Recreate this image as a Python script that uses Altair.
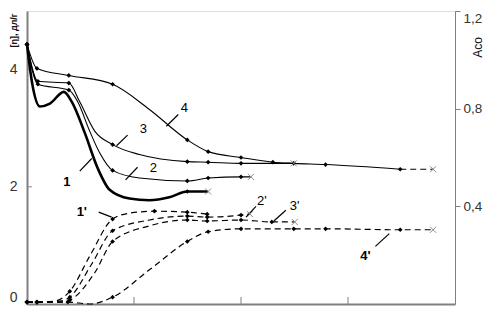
import altair as alt
import pandas as pd

# ---------- solid curves: [η], dl/g (left axis) ----------
c1_x = [0, 0.047, 0.121, 0.214, 0.344, 0.419, 0.54, 0.66, 0.772, 0.958, 1.144, 1.33, 1.498, 1.693]
c1_y = [4.43, 3.78, 3.37, 3.42, 3.62, 3.45, 2.92, 2.32, 1.95, 1.80, 1.77, 1.82, 1.92, 1.92]
c1_m = ["dot", "", "", "", "", "", "", "", "", "", "", "", "dot", "x"]

c2_x = [0, 0.102, 0.391, 0.474, 0.586, 0.679, 0.80, 1.051, 1.498, 1.693, 2.0, 2.093]
c2_y = [4.43, 3.75, 3.65, 3.45, 2.95, 2.58, 2.28, 2.15, 2.10, 2.15, 2.17, 2.17]
c2_m = ["dot", "dot", "dot", "", "", "", "dot", "", "dot", "dot", "dot", "x"]

c3_x = [0, 0.102, 0.391, 0.493, 0.633, 0.80, 1.051, 1.498, 1.693, 2.0, 2.493]
c3_y = [4.43, 3.80, 3.77, 3.45, 2.95, 2.72, 2.55, 2.43, 2.42, 2.40, 2.40]
c3_m = ["dot", "dot", "dot", "", "", "dot", "", "dot", "dot", "dot", "x"]

c4_x = [0, 0.093, 0.391, 0.80, 1.144, 1.498, 1.693, 2.0, 2.298, 2.493, 2.79, 3.488]
c4_y = [4.43, 4.02, 3.90, 3.75, 3.32, 2.80, 2.60, 2.50, 2.42, 2.40, 2.38, 2.30]
c4_m = ["dot", "dot", "dot", "dot", "", "dot", "dot", "dot", "dot", "dot", "dot", "dot"]

c4e_x = [3.488, 3.795]
c4e_y = [2.30, 2.30]
c4e_m = ["", "x"]

# ---------- dashed curves: Aco (right axis) ----------
d1_x = [0, 0.093, 0.26, 0.40, 0.586, 0.80, 0.958, 1.191, 1.498, 1.684]
d1_y = [0.008, 0.008, 0.012, 0.052, 0.196, 0.348, 0.372, 0.38, 0.376, 0.368]
d1_m = ["dot", "dot", "", "dot", "", "dot", "", "dot", "dot", "dot"]

d2_x = [0, 0.093, 0.307, 0.40, 0.605, 0.80, 1.144, 1.498, 1.684, 2.0, 2.084]
d2_y = [0.008, 0.008, 0.012, 0.028, 0.164, 0.30, 0.344, 0.36, 0.356, 0.364, 0.368]
d2_m = ["dot", "dot", "", "dot", "", "dot", "", "dot", "dot", "dot", "x"]

d3_x = [0, 0.093, 0.326, 0.40, 0.633, 0.80, 1.144, 1.498, 1.684, 2.0, 2.288, 2.502]
d3_y = [0.008, 0.008, 0.008, 0.016, 0.128, 0.256, 0.32, 0.344, 0.34, 0.344, 0.336, 0.336]
d3_m = ["dot", "dot", "", "dot", "", "dot", "", "dot", "dot", "dot", "dot", "x"]

d4_x = [0, 0.093, 0.381, 0.586, 0.80, 1.144, 1.498, 1.693, 2.0, 2.493, 2.79, 3.488, 3.795]
d4_y = [0.008, 0.008, 0.008, 0.0, 0.028, 0.14, 0.256, 0.296, 0.308, 0.308, 0.308, 0.304, 0.304]
d4_m = ["dot", "dot", "dot", "", "dot", "", "dot", "dot", "dot", "dot", "dot", "dot", "x"]

# ---------- annotations (left-axis units) ----------
lab_text = ["1", "2", "3", "4", "1'", "2'", "3'", "4'"]
lab_x = [0.372, 1.181, 1.088, 1.47, 0.512, 2.195, 2.502, 3.163]
lab_y = [2.08, 2.32, 2.98, 3.35, 1.57, 1.75, 1.67, 0.82]
lab_bold = [True, False, False, False, True, False, False, True]

ptr_x = [0.493, 0.921, 0.837, 1.302, 0.670, 2.047, 2.307, 3.256]
ptr_y = [2.267, 2.117, 2.70, 3.033, 1.567, 1.483, 1.417, 0.983]
ptr_x2 = [0.605, 1.033, 0.940, 1.414, 0.791, 2.140, 2.419, 3.386]
ptr_y2 = [2.483, 2.333, 2.883, 3.233, 1.483, 1.667, 1.60, 1.20]

xtick_vals = [1, 2, 3]
ytick_vals = [2, 4]


def frame(name, xs, ys, ms):
    return pd.DataFrame({"series": name, "x": xs, "y": ys, "m": ms, "i": range(len(xs))})


solid_thin = pd.concat([frame("2", c2_x, c2_y, c2_m), frame("3", c3_x, c3_y, c3_m),
                        frame("4", c4_x, c4_y, c4_m)])
solid_bold = frame("1", c1_x, c1_y, c1_m)
solid_ext = frame("4e", c4e_x, c4e_y, c4e_m)
solid_all = pd.concat([solid_thin, solid_bold, solid_ext])
dashed = pd.concat([frame("1'", d1_x, d1_y, d1_m), frame("2'", d2_x, d2_y, d2_m),
                    frame("3'", d3_x, d3_y, d3_m), frame("4'", d4_x, d4_y, d4_m)])

labels = pd.DataFrame({"t": lab_text, "x": lab_x, "y": lab_y, "b": lab_bold})
ptrs = pd.DataFrame({"x": ptr_x, "y": ptr_y, "x2": ptr_x2, "y2": ptr_y2})
ticks = pd.concat([
    pd.DataFrame({"x": xtick_vals, "x2": xtick_vals, "y": [0] * 3, "y2": [0.12] * 3}),
    pd.DataFrame({"x": [0, 0], "x2": [0.045, 0.045], "y": ytick_vals, "y2": ytick_vals}),
])

FONT = "Liberation Sans"
GRAY = "#808080"
XSHAPE = "M-1,-1L1,1M-1,1L1,-1"

X = alt.X("x:Q", scale=alt.Scale(domain=[0, 4], nice=False, zero=False),
          axis=alt.Axis(labels=False, ticks=False, title=None, grid=False,
                        domainColor=GRAY, domainWidth=2))
YL = alt.Y("y:Q", scale=alt.Scale(domain=[0, 5], nice=False),
           axis=alt.Axis(values=[0, 2, 4], title="[η], дл/г", titleAngle=-90,
                         titleX=-14, titleY=19, titleFontSize=9, titleFontWeight="bold",
                         titleAlign="center", titleBaseline="middle", titleFont=FONT,
                         titleColor="#111", ticks=False, labelPadding=10, labelFontSize=14,
                         labelFont=FONT, labelColor="#333", grid=False, labelFlush=True,
                         domainColor=GRAY, domainWidth=2))
YR = alt.Y("y:Q", scale=alt.Scale(domain=[0, 1.2], nice=False),
           axis=alt.Axis(orient="right", values=[0.4, 0.8, 1.2], format=".1f",
                         labelExpr="replace(datum.label, '.', ',')",
                         title="Aco", titleAngle=-90, titleX=22, titleY=36,
                         titleFontSize=12, titleFontWeight="normal", titleFont=FONT,
                         titleAlign="center", titleBaseline="middle", titleColor="#111",
                         tickSize=5, tickColor=GRAY, labelPadding=3, labelFontSize=13.5,
                         labelFont=FONT, labelColor="#333", grid=False, labelFlush=True,
                         domainColor=GRAY, domainWidth=1))

line_thin = alt.Chart(solid_thin).mark_line(color="black", strokeWidth=1.1, interpolate="monotone").encode(
    x=X, y=YL, detail="series:N", order="i:Q")
line_bold = alt.Chart(solid_bold).mark_line(color="black", strokeWidth=2.6, interpolate="monotone").encode(
    x=X, y=YL, order="i:Q")
line_ext = alt.Chart(solid_ext).mark_line(color="black", strokeWidth=1.1, strokeDash=[6, 4]).encode(
    x=X, y=YL, order="i:Q")
dots_l = alt.Chart(solid_all).transform_filter("datum.m == 'dot'").mark_point(
    shape="diamond", filled=True, color="black", size=22, opacity=1).encode(x=X, y=YL)
xs_l = alt.Chart(solid_all).transform_filter("datum.m == 'x'").mark_point(
    shape=XSHAPE, filled=False, color="#8a8a8a", size=36, strokeWidth=1, opacity=1).encode(x=X, y=YL)
tick_l = alt.Chart(ticks).mark_rule(color=GRAY, strokeWidth=1).encode(
    x=X, y=YL, x2="x2:Q", y2="y2:Q")
ptr_l = alt.Chart(ptrs).mark_rule(color="black", strokeWidth=1.2).encode(
    x=X, y=YL, x2="x2:Q", y2="y2:Q")
txt_b = alt.Chart(labels).transform_filter("datum.b").mark_text(
    font=FONT, fontSize=13, fontWeight="bold", color="black").encode(x=X, y=YL, text="t:N")
txt_n = alt.Chart(labels).transform_filter("!datum.b").mark_text(
    font=FONT, fontSize=13, color="black").encode(x=X, y=YL, text="t:N")

left = alt.layer(tick_l, line_thin, line_bold, line_ext, dots_l, xs_l, ptr_l, txt_b, txt_n)

dash_l = alt.Chart(dashed).mark_line(color="black", strokeWidth=1.2, strokeDash=[6, 4],
                                     interpolate="monotone").encode(
    x=X, y=YR, detail="series:N", order="i:Q")
dots_r = alt.Chart(dashed).transform_filter("datum.m == 'dot'").mark_point(
    shape="diamond", filled=True, color="black", size=22, opacity=1).encode(x=X, y=YR)
xs_r = alt.Chart(dashed).transform_filter("datum.m == 'x'").mark_point(
    shape=XSHAPE, filled=False, color="#8a8a8a", size=36, strokeWidth=1, opacity=1).encode(x=X, y=YR)

right = alt.layer(dash_l, dots_r, xs_r)

chart = alt.layer(left, right).resolve_scale(y="independent").properties(
    width=428, height=293,
    autosize=alt.AutoSizeParams(type="none"),
    padding={"left": 19, "top": 3, "right": 28, "bottom": 2},
).configure_view(stroke=None).configure(font=FONT)

chart.save("out.html", embed_options={"renderer": "svg", "actions": False})
